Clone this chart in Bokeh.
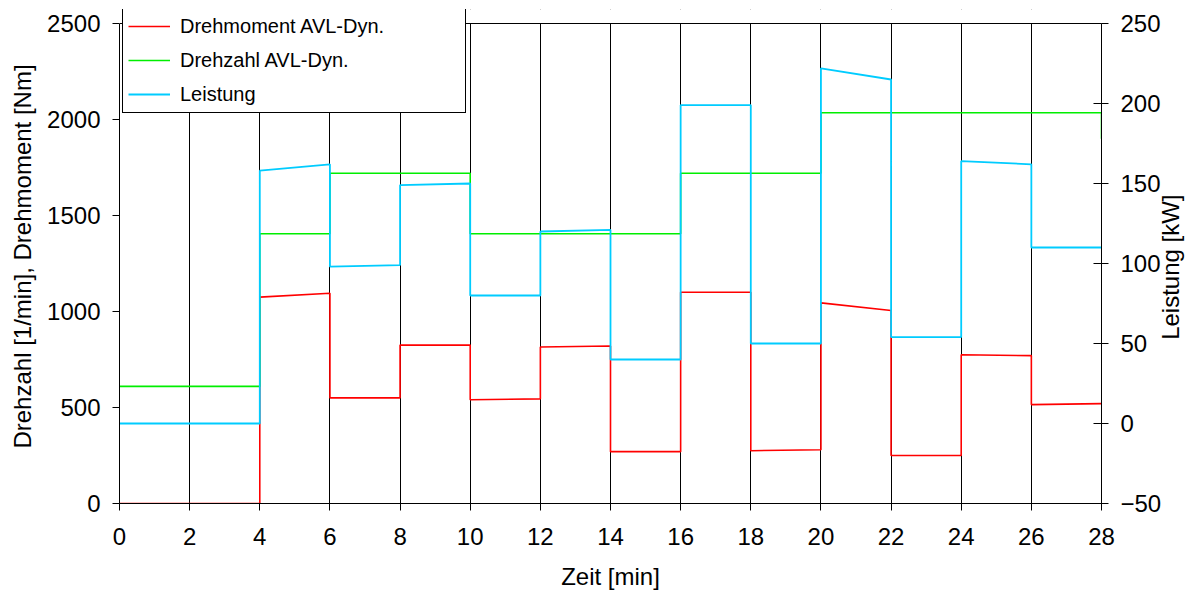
import math
from bokeh.plotting import figure
from bokeh.layouts import row
from bokeh.models import (Range1d, LinearAxis, FixedTicker, Legend, LegendItem,
                          Span, BoxAnnotation, Label)
from bokeh.embed import file_html
from bokeh.resources import INLINE

# ---- data ----
seg_start = [0, 4, 6, 8, 10, 12, 14, 16, 18, 20, 22, 24, 26]
seg_end = [4, 6, 8, 10, 12, 14, 16, 18, 20, 22, 24, 26, 28]

torque_start = [0, 1075, 550, 825, 540, 815, 270, 1100, 275, 1045, 250, 775, 515]
torque_end = [0, 1095, 550, 825, 545, 820, 270, 1100, 280, 1005, 250, 770, 520]

speed_start = [610, 1405, 1720, 1720, 1405, 1405, 1405, 1720, 1720, 2035, 2035, 2035, 2035]
speed_end = [610, 1405, 1720, 1720, 1405, 1405, 1405, 1720, 1720, 2035, 2035, 2035, 2035]
speed_final = 1900

power_start = [0, 158, 98, 149, 80, 120, 40, 199, 50, 222, 54, 164, 110]
power_end = [0, 162, 99, 150, 80, 121, 40, 199, 50, 215, 54, 162, 110]

x_ticks = [0, 2, 4, 6, 8, 10, 12, 14, 16, 18, 20, 22, 24, 26, 28]
left_ticks = [0, 500, 1000, 1500, 2000, 2500]
right_ticks = [-50, 0, 50, 100, 150, 200, 250]

labels = ["Drehmoment AVL-Dyn.", "Drehzahl AVL-Dyn.", "Leistung"]
colors = ["#ff0000", "#00ee00", "#00ccff"]
right_label = "Leistung [kW]"


def steps(starts, ends):
    xs, ys = [], []
    for t0, t1, a, b in zip(seg_start, seg_end, starts, ends):
        xs += [t0, t1]
        ys += [a, b]
    return xs, ys


FONT = "Liberation Sans"
FS = "24px"

# plot area 480 px high; the frame is 14 px taller so the legend (which
# sits partly above the plot area) is not clipped
PLOT_H = 480
EXTRA = 14
TOP = 9
BOTTOM = 87
TOTAL_H = TOP + PLOT_H + EXTRA + BOTTOM
L_MIN, L_MAX = left_ticks[0], left_ticks[-1]
R_MIN, R_MAX = right_ticks[0], right_ticks[-1]
l_top = L_MIN + (L_MAX - L_MIN) * (PLOT_H + EXTRA) / PLOT_H
r_top = R_MIN + (R_MAX - R_MIN) * (PLOT_H + EXTRA) / PLOT_H

p = figure(frame_width=982, frame_height=PLOT_H + EXTRA, output_backend="svg",
           toolbar_location=None,
           x_range=Range1d(0, 28), y_range=Range1d(L_MIN, l_top),
           min_border_left=119, min_border_right=60,
           min_border_top=TOP, min_border_bottom=BOTTOM)
p.extra_y_ranges = {"kw": Range1d(R_MIN, r_top)}

p.outline_line_color = None
p.background_fill_color = "white"
p.border_fill_color = "white"

p.ygrid.grid_line_color = None
p.xgrid.grid_line_color = "black"
p.xgrid.grid_line_width = 1
p.xgrid.grid_line_alpha = 1
p.xgrid.ticker = FixedTicker(ticks=x_ticks)

# bottom axis
xa = p.xaxis[0]
xa.ticker = FixedTicker(ticks=x_ticks)
xa.axis_label = "Zeit [min]"

# left axis
ya = p.yaxis[0]
ya.ticker = FixedTicker(ticks=left_ticks)
ya.axis_label = "Drehzahl [1/min], Drehmoment [Nm]"
ya.bounds = (L_MIN, L_MAX)

# right axis (its title is drawn in a narrow side figure)
ra = LinearAxis(y_range_name="kw", ticker=FixedTicker(ticks=right_ticks),
                bounds=(R_MIN, R_MAX))
p.add_layout(ra, "right")

for ax in (xa, ya, ra):
    ax.axis_line_color = "black"
    ax.major_tick_line_color = "black"
    ax.minor_tick_line_color = None
    ax.major_tick_out = 7
    ax.major_tick_in = 0
    ax.major_label_text_font = FONT
    ax.major_label_text_font_size = FS
    ax.major_label_text_color = "black"
    ax.axis_label_text_font = FONT
    ax.axis_label_text_font_size = FS
    ax.axis_label_text_font_style = "normal"
    ax.axis_label_text_color = "black"
    ax.major_label_standoff = 12

ra.major_tick_in = 8
xa.major_label_standoff = 17
xa.axis_label_standoff = 15
ya.axis_label_standoff = 8

# strip above the plot area: white, with the plot's top border line
p.add_layout(BoxAnnotation(bottom=L_MAX, fill_color="white", fill_alpha=1,
                           line_color=None))
p.add_layout(Span(location=L_MAX, dimension="width", line_color="black",
                  line_width=1))

tx, ty = steps(torque_start, torque_end)
sx, sy = steps(speed_start, speed_end)
sx.append(28)
sy.append(speed_final)
px, py = steps(power_start, power_end)

r1 = p.line(tx, ty, line_color=colors[0], line_width=1.6)
r2 = p.line(sx, sy, line_color=colors[1], line_width=1.6)
r3 = p.line(px, py, line_color=colors[2], line_width=1.8, y_range_name="kw")

legend = Legend(items=[LegendItem(label=labels[0], renderers=[r1]),
                       LegendItem(label=labels[1], renderers=[r2]),
                       LegendItem(label=labels[2], renderers=[r3])],
                location=(3, 390))
legend.border_line_color = "black"
legend.border_line_width = 1
legend.border_line_alpha = 1
legend.background_fill_color = "white"
legend.background_fill_alpha = 1
legend.padding = 5
legend.spacing = 8
legend.margin = 0
legend.glyph_width = 42
legend.glyph_height = 26
legend.label_height = 26
legend.label_width = 280
legend.label_standoff = 10
legend.label_text_font = FONT
legend.label_text_font_size = "20px"
legend.label_text_color = "black"
p.add_layout(legend, "center")

# narrow side figure holding the right axis title (reads bottom-to-top)
SIDE_W = 34
side = figure(width=SIDE_W, height=TOTAL_H, output_backend="svg",
              toolbar_location=None, x_axis_type=None, y_axis_type=None,
              x_range=Range1d(0, SIDE_W), y_range=Range1d(0, TOTAL_H),
              min_border=0, margin=(0, 0, 0, -12))
side.outline_line_color = None
side.background_fill_alpha = 0
side.border_fill_alpha = 0
side.xgrid.grid_line_color = None
side.ygrid.grid_line_color = None
side.add_layout(Label(x=18, y=TOTAL_H - 268 - 41, text=right_label, angle=math.pi / 2,
                      text_align="center", text_baseline="middle",
                      text_font=FONT, text_font_size=FS, text_color="black"))

layout = row(p, side, spacing=0)
open("out.html", "w").write(file_html(layout, INLINE))
